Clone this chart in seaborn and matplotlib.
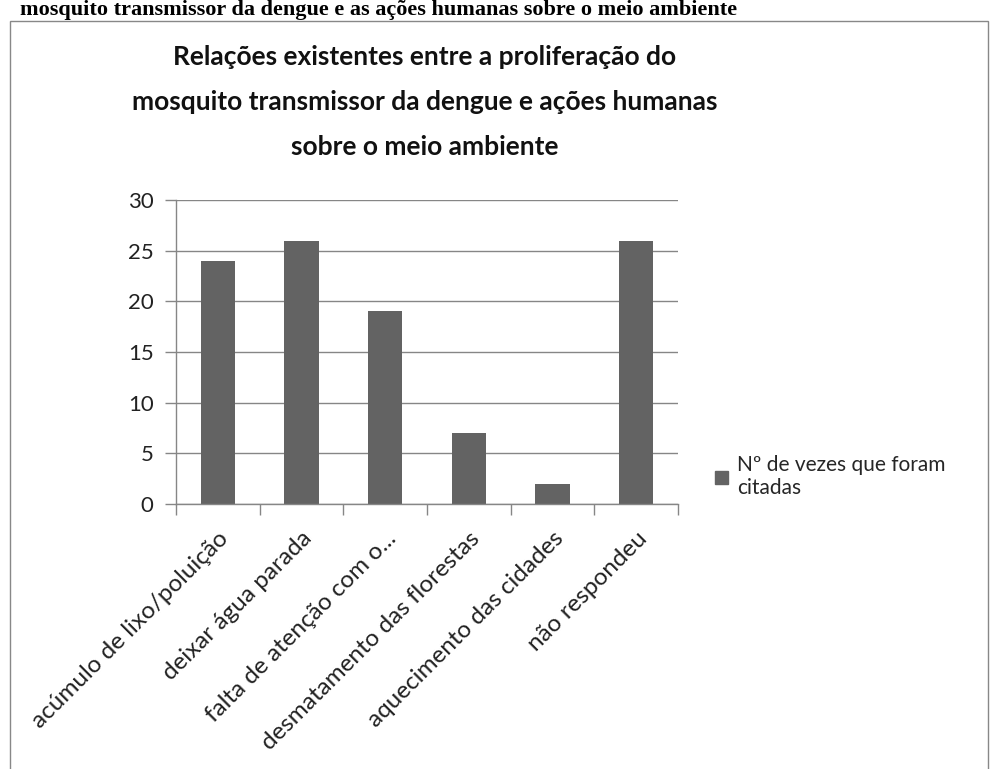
import matplotlib
matplotlib.use("Agg")
import matplotlib.pyplot as plt
import seaborn as sns
import pandas as pd
from matplotlib.patches import Rectangle

categories = ["acúmulo de lixo/poluição", "deixar água parada", "falta de atenção com o...",
              "desmatamento das florestas", "aquecimento das cidades", "não respondeu"]
values = [24, 26, 19, 7, 2, 26]
series_name = "Nº de vezes que foram\ncitadas"
yticks = [0, 5, 10, 15, 20, 25, 30]
title = "Relações existentes entre a proliferação do\nmosquito transmissor da dengue e ações humanas\nsobre o meio ambiente"
top_text = "mosquito transmissor da dengue e as ações humanas sobre o meio ambiente"

sns.set_style("white")
plt.rcParams['font.family'] = ['Lato', 'DejaVu Sans']

df = pd.DataFrame({"cat": categories, "val": values})

fig = plt.figure(figsize=(9.93, 7.69), dpi=100)
ax = fig.add_axes([0.1772, 0.3446, 0.5056, 0.3953])
bar_color = "#636363"
sns.barplot(data=df, x="cat", y="val", color=bar_color, width=0.41, ax=ax,
            saturation=1, edgecolor="none")

ax.set_ylim(0, 30)
ax.set_xlim(-0.5, len(categories) - 0.5)
ax.set_yticks(yticks)
ax.set_yticklabels([str(t) for t in yticks], fontsize=16, color="#222222")
ax.yaxis.grid(True, color="#868686", linewidth=1)
ax.set_axisbelow(True)
ax.set_xlabel("")
ax.set_ylabel("")
for s in ["top", "right"]:
    ax.spines[s].set_visible(False)
for s in ["left", "bottom"]:
    ax.spines[s].set_color("#868686")
    ax.spines[s].set_linewidth(1)
ax.tick_params(axis="y", length=8, width=1, color="#868686", left=True, pad=8)
ax.set_xticks([i - 0.5 for i in range(len(categories) + 1)], minor=False)
ax.set_xticklabels([""] * (len(categories) + 1))
ax.tick_params(axis="x", length=8, width=1, color="#868686", bottom=True)
ax.set_xticks(range(len(categories)), minor=True)
ax.set_xticklabels(categories, minor=True, rotation=45, ha="right", rotation_mode="anchor",
                   fontsize=17.5, color="#222222")
ax.tick_params(axis="x", which="minor", length=0, pad=17)

# legend
ax.legend(handles=[Rectangle((0, 0), 1, 1, color=bar_color)], labels=[series_name],
          loc="center left", bbox_to_anchor=(1.074, 0.09), frameon=False, fontsize=15,
          handlelength=0.6, handleheight=0.6, handletextpad=0.45, labelspacing=0.3,
          borderaxespad=0, borderpad=0)

fig.text(0.428, 0.942, title, ha="center", va="top", fontsize=19, fontweight="bold",
         linespacing=2.05, color="#111111")

fig.text(0.02, 1.0, top_text, ha="left", va="top", fontsize=16, fontweight="bold",
         family=["Liberation Serif", "DejaVu Serif"], color="black")

fig.patches.append(Rectangle((0.010, -0.01), 0.985, 0.983, transform=fig.transFigure,
                             fill=False, edgecolor="#888888", linewidth=1))

fig.savefig("out.png", dpi=100)
